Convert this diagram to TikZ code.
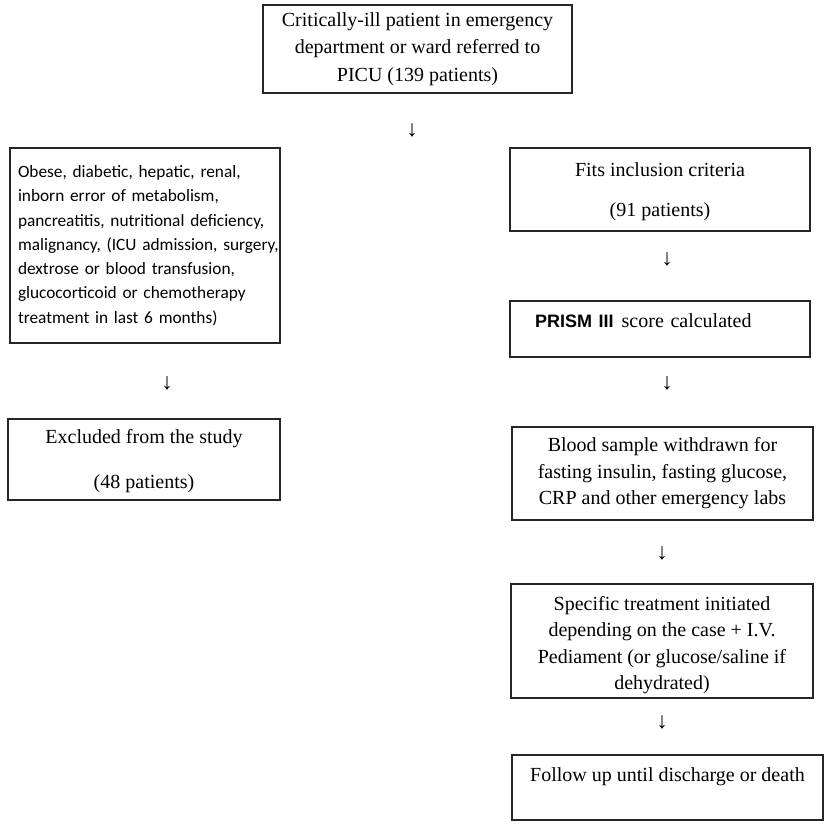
\documentclass[tikz,border=0pt]{standalone}
\usepackage{fontspec}
\setmainfont{Liberation Serif}
\newfontfamily\calfont{Carlito}
\newfontfamily\arialfont{Liberation Sans}
\tikzset{box/.style={draw=black!85,line width=1.8pt,inner sep=0pt,align=center,
                     font=\fontsize{20}{26.5}\selectfont},
         leftbox/.style={box,align=left,text width=254pt,inner xsep=8pt,
                     font=\calfont\fontsize{17.3}{24.3}\selectfont},
         downglyph/.style={inner sep=0pt,font=\bfseries\fontsize{23}{23}\selectfont}}

\begin{document}
\begin{tikzpicture}[x=1pt,y=-1pt]
      \useasboundingbox (0,0) rectangle (829,829);
      % top
      \node[box,minimum width=309pt,minimum height=88pt,
            font=\fontsize{20}{27.5}\selectfont] (referred) at (417.5,49)
            {Critically-ill patient in emergency\\department or ward referred to\\PICU (139 patients)};
      \node[downglyph] (d0) at (412,130) {↓};
      % excluded branch
      \node[leftbox,minimum height=195pt] (criteria) at (145,245.5)
            {\mbox{Obese, diabetic, hepatic, renal,}\\
             \mbox{inborn error of metabolism,}\\
             \mbox{pancreatitis, nutritional deficiency,}\\
             \mbox{malignancy, (ICU admission, surgery,}\\
             \mbox{dextrose or blood transfusion,}\\
             \mbox{glucocorticoid or chemotherapy}\\
             \mbox{treatment in last 6 months)}};
      \node[downglyph] (d1) at (167,383) {↓};
      \node[box,minimum width=272pt,minimum height=81pt] (excluded) at (144,459.5)
            {\rule{0pt}{17pt}Excluded from the study\\[18pt](48 patients)};
      % included branch
      \node[box,minimum width=300pt,minimum height=83pt] (fits) at (660,189.5)
            {\rule{0pt}{18pt}Fits inclusion criteria\\[13pt](91 patients)};
      \node[downglyph] (d2) at (667,259) {↓};
      \node[box,align=left,text width=250pt,inner xsep=25pt,minimum height=56pt] (prism) at (660,329)
            {{\arialfont\bfseries\fontsize{18}{18}\selectfont PRISM III}\hspace{8pt}score calculated\\[-9pt]\mbox{}};
      \node[downglyph] (d3) at (667,383) {↓};
      \node[box,minimum width=301pt,minimum height=93pt] (blood) at (662.5,473.5)
            {Blood sample withdrawn for\\fasting insulin, fasting glucose,\\CRP and other emergency labs};
      \node[downglyph] (d4) at (662,553) {↓};
      \node[box,minimum width=302pt,minimum height=114pt] (treatment) at (662,641)
            {\rule{0pt}{22pt}Specific treatment initiated\\depending on the case + I.V.\\Pediament (or glucose/saline if\\dehydrated)};
      \node[downglyph] (d5) at (662,722) {↓};
      \node[box,minimum width=311pt,minimum height=65pt] (followup) at (667.5,787.5)
            {Follow up until discharge or death\\\mbox{}};
\end{tikzpicture}
\end{document}
